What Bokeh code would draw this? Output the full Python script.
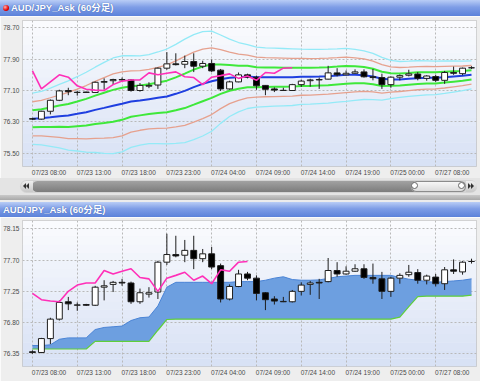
import numpy as np
from bokeh.plotting import figure
from bokeh.models import (Range1d, FixedTicker, BoxAnnotation, Div, ColumnDataSource,
                          NumeralTickFormatter)
from bokeh.layouts import column
from bokeh.embed import file_html
from bokeh.resources import INLINE

# ---------------- data ----------------
candle_idx = list(range(50))
opens = [76.38, 76.37, 76.57, 76.85, 77.10, 77.05, 77.06, 77.05, 77.31, 77.35,
         77.38, 77.37, 77.10, 77.21, 77.24, 77.67, 77.78, 77.77, 77.84, 77.72,
         77.79, 77.62, 77.14, 77.32, 77.50, 77.44, 77.23, 77.14, 77.105, 77.10,
         77.25, 77.35, 77.38, 77.39, 77.55, 77.50, 77.54, 77.575, 77.45, 77.43,
         77.25, 77.44, 77.49, 77.52, 77.41, 77.455, 77.36, 77.56, 77.53, 77.68]
highs = [76.40, 76.58, 76.87, 77.12, 77.17, 77.09, 77.07, 77.33, 77.41, 77.40,
         77.43, 77.39, 77.29, 77.31, 77.69, 78.08, 78.05, 77.99, 78.05, 77.86,
         77.89, 77.65, 77.35, 77.56, 77.53, 77.48, 77.24, 77.18, 77.17, 77.27,
         77.38, 77.40, 77.43, 77.73, 77.67, 77.61, 77.64, 77.64, 77.65, 77.53,
         77.46, 77.51, 77.63, 77.57, 77.49, 77.50, 77.60, 77.71, 77.685, 77.72]
lows = [76.35, 76.36, 76.49, 76.83, 76.98, 76.97, 77.04, 77.04, 77.12, 77.24,
        77.33, 77.07, 77.07, 77.16, 77.14, 77.63, 77.74, 77.67, 77.57, 77.67,
        77.57, 77.09, 77.12, 77.31, 77.41, 77.12, 76.98, 77.06, 77.095, 77.09,
        77.19, 77.20, 77.14, 77.38, 77.46, 77.49, 77.53, 77.43, 77.36, 77.14,
        77.17, 77.36, 77.46, 77.36, 77.35, 77.32, 77.27, 77.50, 77.49, 77.65]
closes = [76.37, 76.57, 76.85, 77.09, 77.07, 77.055, 77.05, 77.31, 77.33, 77.38,
          77.37, 77.10, 77.23, 77.23, 77.67, 77.78, 77.76, 77.84, 77.72, 77.79,
          77.60, 77.14, 77.32, 77.50, 77.44, 77.22, 77.13, 77.11, 77.10, 77.25,
          77.34, 77.37, 77.37, 77.55, 77.50, 77.54, 77.575, 77.45, 77.43, 77.25,
          77.44, 77.48, 77.525, 77.41, 77.47, 77.36, 77.56, 77.54, 77.67, 77.68]

tick_idx = [0, 5, 10, 15, 20, 25, 30, 35, 40, 45]
tick_labels = ["07/23 08:00", "07/23 13:00", "07/23 18:00", "07/23 23:00", "07/24 04:00",
               "07/24 09:00", "07/24 14:00", "07/24 19:00", "07/25 00:00", "07/27 08:00"]

top_yticks = [75.50, 76.30, 77.10, 77.90, 78.70]
bot_yticks = [76.35, 76.80, 77.25, 77.70, 78.15]

# Bollinger middle line and sigma (top panel)
bb_mid = [76.377, 76.394, 76.419, 76.445, 76.462, 76.504, 76.547, 76.606, 76.657, 76.709,
          76.760, 76.819, 76.845, 76.879, 76.913, 76.947, 77.015, 77.091, 77.185, 77.270,
          77.338, 77.389, 77.423, 77.440, 77.457, 77.440, 77.440, 77.440, 77.440, 77.440,
          77.449, 77.449, 77.457, 77.466, 77.483, 77.500, 77.500, 77.491, 77.457, 77.398,
          77.381, 77.381, 77.398, 77.415, 77.423, 77.423, 77.440, 77.457, 77.474, 77.500]
bb_sigma = [0.218, 0.227, 0.248, 0.270, 0.295, 0.316, 0.340, 0.363, 0.387, 0.407,
            0.409, 0.390, 0.380, 0.379, 0.390, 0.404, 0.421, 0.440, 0.447, 0.444,
            0.426, 0.376, 0.329, 0.295, 0.272, 0.255, 0.250, 0.247, 0.244, 0.241,
            0.235, 0.233, 0.231, 0.230, 0.227, 0.226, 0.217, 0.207, 0.197, 0.182,
            0.162, 0.153, 0.150, 0.148, 0.145, 0.142, 0.138, 0.132, 0.126, 0.119]

# Ichimoku cloud (bottom panel)
span_a = [76.47, 76.47, 76.48, 76.56, 76.58, 76.58, 76.58, 76.70, 76.73, 76.74,
          76.75, 76.83, 76.87, 76.88, 77.04, 77.31, 77.38, 77.38, 77.38, 77.38,
          77.38, 77.38, 77.38, 77.39, 77.39, 77.39, 77.41, 77.44, 77.46, 77.42,
          77.41, 77.41, 77.415, 77.435, 77.46, 77.47, 77.48, 77.48, 77.48, 77.48,
          77.48, 77.45, 77.425, 77.41, 77.39, 77.38, 77.39, 77.40, 77.41, 77.43]
span_b = [76.42, 76.42, 76.42, 76.42, 76.42, 76.42, 76.42, 76.53, 76.53, 76.53,
          76.53, 76.53, 76.53, 76.53, 76.69, 76.845, 76.85, 76.85, 76.85, 76.85,
          76.85, 76.85, 76.85, 76.85, 76.85, 76.85, 76.85, 76.85, 76.85, 76.85,
          76.85, 76.85, 76.85, 76.85, 76.85, 76.85, 76.85, 76.85, 76.85, 76.85,
          76.85, 76.88, 77.03, 77.175, 77.18, 77.18, 77.18, 77.18, 77.18, 77.195]

lag_shift_top = 20
lag_shift_bottom = 25

TITLE = "AUD/JPY_Ask (60分足)"

# ---------------- helpers ----------------
FONT = "'Liberation Sans', 'Noto Sans CJK JP', sans-serif"


def candle_source():
    top = [max(o, c) for o, c in zip(opens, closes)]
    bot = [min(o, c) for o, c in zip(opens, closes)]
    fill = ["#ffffff" if c >= o else "#000000" for o, c in zip(opens, closes)]
    return ColumnDataSource(dict(x=candle_idx, h=highs, l=lows, top=top, bot=bot, fill=fill))


def make_fig(height, y0, y1, yticks, btop, bbot):
    p = figure(width=480, height=height, x_range=Range1d(-1.111, 49.556),
               y_range=Range1d(y0, y1), output_backend="svg", toolbar_location=None,
               min_border_left=20, min_border_right=4, min_border_top=btop,
               min_border_bottom=bbot, margin=0)
    p.background_fill_color = "#eef2fa"
    p.border_fill_color = "#eeeeee"
    p.outline_line_color = "#c4c4c4"
    # vertical gradient of the plotting frame
    n = 18
    edges = np.linspace(y1, y0, n + 1)
    c_top = np.array([250, 251, 254])
    c_bot = np.array([216, 226, 245])
    for k in range(n):
        t = k / (n - 1)
        col = tuple(int(v) for v in (c_top * (1 - t) + c_bot * t))
        p.add_layout(BoxAnnotation(top=edges[k], bottom=edges[k + 1] - 0.002,
                                   fill_color="#%02x%02x%02x" % col, fill_alpha=1.0,
                                   line_alpha=0, level="image"))
    # axes
    p.xaxis.ticker = FixedTicker(ticks=[t + 1.85 for t in tick_idx])
    p.xaxis.major_label_overrides = {t + 1.85: lab for t, lab in zip(tick_idx, tick_labels)}
    p.yaxis.ticker = FixedTicker(ticks=yticks)
    p.yaxis.formatter = NumeralTickFormatter(format="0.00")
    for ax in (p.xaxis[0], p.yaxis[0]):
        ax.axis_line_color = None
        ax.major_tick_line_color = None
        ax.minor_tick_line_color = None
        ax.major_tick_out = 0
        ax.major_tick_in = 0
        ax.major_label_text_font = "Liberation Sans"
        ax.major_label_text_font_size = "6.5px"
        ax.major_label_text_color = "#4a4a4a"
    p.xaxis.major_label_standoff = 2
    p.yaxis.major_label_standoff = 3
    p.xgrid.ticker = FixedTicker(ticks=tick_idx)
    p.ygrid.ticker = FixedTicker(ticks=yticks)
    for g in (p.xgrid[0], p.ygrid[0]):
        g.grid_line_color = "#b9b9b9"
        g.grid_line_dash = "2 2"
        g.grid_line_width = 1
    return p


def draw_candles(p):
    src = candle_source()
    p.segment(x0="x", y0="h", x1="x", y1="l", source=src, line_color="#1e1e1e", line_width=1)
    p.vbar(x="x", width=0.66, top="top", bottom="bot", source=src, fill_color="fill",
           line_color="#1e1e1e", line_width=1)


# ---------------- top panel ----------------
p1 = make_fig(162, 75.160, 78.887, top_yticks, 4, 12)
mid = np.array(bb_mid)
sig = np.array(bb_sigma)
band_styles = [(3, "#94eaf7", 1.3), (2, "#e6a18e", 1.3), (1, "#3ee83a", 2.0)]
for k, col, w in band_styles:
    p1.line(candle_idx, mid + k * sig, line_color=col, line_width=w)
    p1.line(candle_idx, mid - k * sig, line_color=col, line_width=w)
p1.line(candle_idx, bb_mid, line_color="#1f3fe0", line_width=2)
draw_candles(p1)
p1.line(candle_idx[:50 - lag_shift_top], closes[lag_shift_top:], line_color="#ff2fb8",
        line_width=1.6)

# ---------------- bottom panel ----------------
p2 = make_fig(164, 76.168, 78.270, bot_yticks, 3, 15)
p2.varea(x=candle_idx, y1=span_b, y2=span_a, fill_color="#6d9fe0", fill_alpha=1.0)
p2.line(candle_idx, span_a, line_color="#4a84d6", line_width=1)
p2.line(candle_idx, span_b, line_color="#5fcf3a", line_width=1.2)
draw_candles(p2)
p2.line(candle_idx[:50 - lag_shift_bottom], closes[lag_shift_bottom:], line_color="#ff2fb8",
        line_width=1.6)

# ---------------- chrome (headers, scrollbar) ----------------
HEAD_BG = "linear-gradient(#b9cdf6 0%, #7e9de6 45%, #5c82da 100%)"


def header(h, with_dot, text_left):
    dot = ""
    if with_dot:
        dot = ('<div style="position:absolute;left:3px;top:%dpx;width:6px;height:6px;'
               'border-radius:50%%;background:radial-gradient(circle at 35%% 35%%,#ffb0b0,'
               '#e40000 60%%,#a00000);"></div>' % (h // 2 - 3))
    return Div(width=480, height=h, margin=0, text=(
        '<div style="position:relative;width:480px;height:%dpx;background:%s;overflow:hidden;">'
        '%s<div style="position:absolute;left:%dpx;top:0;line-height:%dpx;font-weight:bold;'
        'font-size:9.5px;font-family:%s;color:#ffffff;white-space:nowrap;'
        'text-shadow:0 0 1px #2d4f9e;">%s</div></div>'
        % (h, HEAD_BG, dot, text_left, h, FONT, TITLE)))


def tri(left, top, direction):
    side = "border-right" if direction == "left" else "border-left"
    return ('<div style="position:absolute;left:%dpx;top:%dpx;width:0;height:0;'
            'border-top:3px solid transparent;border-bottom:3px solid transparent;'
            '%s:3px solid #333;"></div>' % (left, top, side))


scroll_html = (
    '<div style="position:relative;width:480px;height:24px;background:#e4e4e4;overflow:hidden;">'
    '<div style="position:absolute;left:20px;top:2px;width:457px;height:13px;border-radius:7px;'
    'background:#d4d4d4;"></div>'
    '<div style="position:absolute;left:32px;top:3px;width:434px;height:11px;border-radius:6px;'
    'background:linear-gradient(#a2a2a2,#7c7c7c);"></div>'
    '<div style="position:absolute;left:21px;top:3px;width:12px;height:11px;border-radius:6px 0 0 6px;'
    'background:linear-gradient(#efefef,#c8c8c8);"></div>'
    + tri(23, 5, "left") + tri(26, 5, "left") +
    '<div style="position:absolute;left:411px;top:3px;width:55px;height:11px;border-radius:6px;'
    'background:linear-gradient(#fafafa,#d8d8d8);box-shadow:inset 0 0 0 1px #8c8c8c;"></div>'
    '<div style="position:absolute;left:411px;top:4px;width:7px;height:7px;border-radius:50%;'
    'background:#ffffff;border:1px solid #666;"></div>'
    '<div style="position:absolute;left:458px;top:4px;width:7px;height:7px;border-radius:50%;'
    'background:#ffffff;border:1px solid #666;"></div>'
    '<div style="position:absolute;left:466px;top:3px;width:11px;height:11px;border-radius:0 6px 6px 0;'
    'background:linear-gradient(#efefef,#c8c8c8);"></div>'
    + tri(468, 5, "right") + tri(471, 5, "right") +
    '<div style="position:absolute;left:0;top:17px;width:480px;height:5px;'
    'background:linear-gradient(#c9c9c9,#a9a9a9);"></div>'
    '<div style="position:absolute;left:0;top:22px;width:480px;height:2px;background:#ececec;"></div>'
    '</div>')
mid_div = Div(width=480, height=24, margin=0, text=scroll_html)

h1 = header(16, True, 11)
h2 = header(15, False, 3)

layout = column(h1, p1, mid_div, h2, p2, spacing=0, margin=0)

open("out.html", "w").write(file_html(layout, INLINE))
